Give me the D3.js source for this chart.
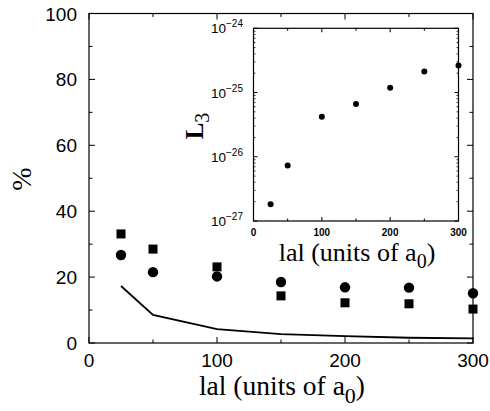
<!DOCTYPE html>
<html><head><meta charset="utf-8">
<script src="https://cdn.jsdelivr.net/npm/d3@7"></script>
<style>body{margin:0;background:#fff}svg{display:block}</style>
</head><body>
<script>
// Data
const xVals = [25, 50, 100, 150, 200, 250, 300];
const squares = [33.1, 28.5, 23.1, 14.3, 12.2, 11.9, 10.3];
const circles = [26.7, 21.5, 20.2, 18.5, 16.9, 16.8, 15.1];
const lineVals = [17.3, 8.5, 4.2, 2.7, 2.1, 1.6, 1.4];
const insetL3 = [1.83e-27, 7.3e-27, 4.2e-26, 6.6e-26, 1.19e-25, 2.13e-25, 2.64e-25];
const mainXTicks = [0, 100, 200, 300];
const mainYTicks = [0, 20, 40, 60, 80, 100];
const insetXTicks = [0, 100, 200, 300];
const insetYExps = [-27, -26, -25, -24];

const W = 490, H = 411;
const svg = d3.select("body").append("svg").attr("width", W).attr("height", H);

// Main scales
const x = d3.scaleLinear().domain([0, 300]).range([89, 473]);
const y = d3.scaleLinear().domain([0, 100]).range([343, 13.5]);

const ax = svg.append("g").attr("stroke", "#000").attr("fill", "none");
ax.append("rect").attr("x", x(0)).attr("y", y(100)).attr("width", x(300) - x(0)).attr("height", y(0) - y(100)).attr("stroke-width", 1.2);

// main ticks (inward, mirrored)
const xMinor = d3.range(50, 300, 100);
mainXTicks.forEach(t => {
  ax.append("line").attr("x1", x(t)).attr("x2", x(t)).attr("y1", y(0)).attr("y2", y(0) - 6);
  ax.append("line").attr("x1", x(t)).attr("x2", x(t)).attr("y1", y(100)).attr("y2", y(100) + 6);
});
xMinor.forEach(t => {
  ax.append("line").attr("x1", x(t)).attr("x2", x(t)).attr("y1", y(0)).attr("y2", y(0) - 3.5);
  ax.append("line").attr("x1", x(t)).attr("x2", x(t)).attr("y1", y(100)).attr("y2", y(100) + 3.5);
});
d3.range(0, 101, 10).forEach(t => {
  const len = t % 20 === 0 ? 6 : 3.5;
  ax.append("line").attr("x1", x(0)).attr("x2", x(0) + len).attr("y1", y(t)).attr("y2", y(t));
  ax.append("line").attr("x1", x(300)).attr("x2", x(300) - len).attr("y1", y(t)).attr("y2", y(t));
});

const sans = "Liberation Sans, Arial, Helvetica, sans-serif";
const serif = "Liberation Serif, Times New Roman, serif";

svg.append("g").selectAll("text").data(mainXTicks).join("text")
  .attr("x", d => x(d)).attr("y", 367).attr("text-anchor", "middle")
  .attr("font-family", sans).attr("font-size", 19).text(d => d);
svg.append("g").selectAll("text").data(mainYTicks).join("text")
  .attr("x", 77).attr("y", d => y(d) + 7).attr("text-anchor", "end")
  .attr("font-family", sans).attr("font-size", 19).text(d => d);

// main axis titles
const xt = svg.append("text").attr("x", 282).attr("y", 395).attr("text-anchor", "middle")
  .attr("font-family", serif).attr("font-size", 27.5);
xt.append("tspan").text("lal (units of a");
xt.append("tspan").attr("dy", 8).attr("font-size", 22).text("0");
xt.append("tspan").attr("dy", -8).text(")");

svg.append("text").attr("transform", "translate(31,179) rotate(-90)").attr("text-anchor", "middle")
  .attr("font-family", serif).attr("font-size", 28).text("%");

// main data
const lineGen = d3.line().x((d, i) => x(xVals[i])).y(d => y(d));
svg.append("path").datum(lineVals).attr("d", lineGen).attr("fill", "none").attr("stroke", "#000").attr("stroke-width", 1.8);
svg.append("g").selectAll("rect").data(squares).join("rect")
  .attr("x", (d, i) => x(xVals[i]) - 4.5).attr("y", d => y(d) - 4.5).attr("width", 9).attr("height", 9).attr("fill", "#000");
svg.append("g").selectAll("circle").data(circles).join("circle")
  .attr("cx", (d, i) => x(xVals[i])).attr("cy", d => y(d)).attr("r", 5.2).attr("fill", "#000");

// Inset
const ix = d3.scaleLinear().domain([0, 300]).range([253.5, 458.5]);
const iy = d3.scaleLog().domain([1e-27, 1e-24]).range([221, 28.3]);
const ia = svg.append("g").attr("stroke", "#000").attr("fill", "none");
ia.append("rect").attr("x", ix(0)).attr("y", iy(1e-24)).attr("width", ix(300) - ix(0)).attr("height", iy(1e-27) - iy(1e-24)).attr("stroke-width", 1.2).attr("fill", "#fff");
d3.range(0, 301, 50).forEach(t => {
  const len = t % 100 === 0 ? 4 : 2.5;
  ia.append("line").attr("x1", ix(t)).attr("x2", ix(t)).attr("y1", iy(1e-27)).attr("y2", iy(1e-27) - len);
  ia.append("line").attr("x1", ix(t)).attr("x2", ix(t)).attr("y1", iy(1e-24)).attr("y2", iy(1e-24) + len);
});
insetYExps.forEach(e => {
  const base = Math.pow(10, e);
  ia.append("line").attr("x1", ix(0)).attr("x2", ix(0) + 4).attr("y1", iy(base)).attr("y2", iy(base));
  ia.append("line").attr("x1", ix(300)).attr("x2", ix(300) - 4).attr("y1", iy(base)).attr("y2", iy(base));
  if (e < -24) {
    for (let m = 2; m <= 9; m++) {
      const v = m * base;
      ia.append("line").attr("x1", ix(0)).attr("x2", ix(0) + 2).attr("y1", iy(v)).attr("y2", iy(v)).attr("stroke-width", 0.8);
      ia.append("line").attr("x1", ix(300)).attr("x2", ix(300) - 2).attr("y1", iy(v)).attr("y2", iy(v)).attr("stroke-width", 0.8);
    }
  }
});
svg.append("g").selectAll("text").data(insetXTicks).join("text")
  .attr("x", d => ix(d)).attr("y", 235.5).attr("text-anchor", "middle")
  .attr("font-family", sans).attr("font-weight", "bold").attr("font-size", 10).text(d => d);
const yl = svg.append("g").selectAll("text").data(insetYExps).join("text")
  .attr("x", 243).attr("y", d => iy(Math.pow(10, d)) + 5).attr("text-anchor", "end")
  .attr("font-family", sans).attr("font-size", 13.5);
yl.append("tspan").text("10");
yl.append("tspan").attr("dy", -6).attr("font-size", 10).text(d => "\u2212" + (-d));

const it = svg.append("text").attr("x", 357).attr("y", 261).attr("text-anchor", "middle")
  .attr("font-family", serif).attr("font-size", 26);
it.append("tspan").text("lal (units of a");
it.append("tspan").attr("dy", 7).attr("font-size", 20).text("0");
it.append("tspan").attr("dy", -7).text(")");

const lt = svg.append("text").attr("transform", "translate(203,126) rotate(-90)").attr("text-anchor", "middle")
  .attr("font-family", serif).attr("font-weight", "bold").attr("font-size", 25);
lt.append("tspan").text("L");
lt.append("tspan").attr("dy", 6).attr("font-weight", "normal").attr("font-size", 20).text("3");

svg.append("g").selectAll("circle").data(insetL3).join("circle")
  .attr("cx", (d, i) => ix(xVals[i])).attr("cy", d => iy(d)).attr("r", 3).attr("fill", "#000");
</script>
</body></html>
